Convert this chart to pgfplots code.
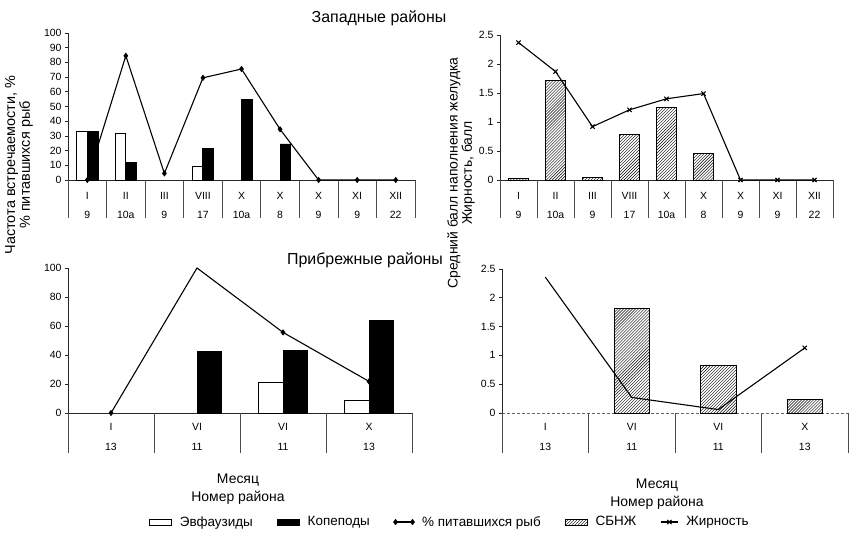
\documentclass[border=0pt]{standalone}
\usepackage{fontspec}
\setmainfont{Liberation Sans}
\usepackage{pgfplots}
\pgfplotsset{compat=1.18}
\usetikzlibrary{patterns}

\pgfplotsset{
  base/.style={
    scale only axis,
    anchor=south west,
    axis x line=bottom, axis y line=left,
    axis line style={-, line width=0.7pt, black!85},
    ymin=0,
    tick align=outside,
    major tick length=3bp,
    ytick style={line width=0.6pt, black!85},
    xtick style={draw=none},
    xticklabel style={align=center, font=\fontsize{10.5}{18.5}\selectfont, yshift=-6bp},
    yticklabel style={font=\fontsize{10.5}{11}\selectfont},
    /pgf/number format/assume math mode=true,
    clip=false,
  },
  barleg/.style={legend image code/.code={\draw[##1] (0bp,-3bp) rectangle (22bp,3bp);}},
}

\begin{document}
\begin{tikzpicture}
\useasboundingbox (0,0) rectangle (849bp,535bp);

% ---------- top left ----------
\begin{axis}[base,
  at={(68bp,355bp)}, width=347bp, height=147bp,
  xmin=-0.5, xmax=8.5, ymax=100,
  ytick={0,10,...,100},
  xtick={0,...,8},
  xticklabels={{I\\9},{II\\10a},{III\\9},{VIII\\17},{X\\10a},{X\\8},{X\\9},{XI\\9},{XII\\22}},
]
\pgfplotsinvokeforeach{-0.5,0.5,1.5,2.5,3.5,4.5,5.5,6.5,7.5,8.5}{
  \draw[black!70, line width=0.6pt] (axis cs:#1,0) -- ([yshift=-38bp]axis cs:#1,0);
}
\addplot[ybar, bar width=0.28, bar shift=-0.14, fill=white, draw=black, line width=0.9pt]
  coordinates {(0,33) (1,32) (3,9)};
\addplot[ybar, bar width=0.28, bar shift=0.14, fill=black, draw=black, line width=0.9pt]
  coordinates {(0,33) (1,12) (3,21.5) (4,54.5) (5,24.5)};
\addplot[black, line width=1.1pt, mark=diamond*, mark size=2.3pt]
  coordinates {(0,0) (1,84.5) (2,4.5) (3,69.5) (4,75.5) (5,34.5) (6,0) (7,0) (8,0)};
\end{axis}

% ---------- top right ----------
\begin{axis}[base,
  at={(500bp,355bp)}, width=333bp, height=145bp,
  xmin=-0.5, xmax=8.5, ymax=2.5,
  ytick={0,0.5,1,1.5,2,2.5},
  yticklabels={0,0.5,1,1.5,2,2.5},
  xtick={0,...,8},
  xticklabels={{I\\9},{II\\10a},{III\\9},{VIII\\17},{X\\10a},{X\\8},{X\\9},{XI\\9},{XII\\22}},
]
\pgfplotsinvokeforeach{-0.5,0.5,1.5,2.5,3.5,4.5,5.5,6.5,7.5,8.5}{
  \draw[black!70, line width=0.6pt] (axis cs:#1,0) -- ([yshift=-38bp]axis cs:#1,0);
}
\addplot[ybar, bar width=0.54, pattern=north east lines, draw=black, line width=0.9pt]
  coordinates {(0,0.02) (1,1.71) (2,0.05) (3,0.78) (4,1.25) (5,0.45)};
\addplot[black, line width=1.1pt, mark=x, mark size=3pt]
  coordinates {(0,2.37) (1,1.87) (2,0.92) (3,1.21) (4,1.40) (5,1.49) (6,0) (7,0) (8,0)};
\end{axis}

% ---------- bottom left ----------
\begin{axis}[base,
  at={(68bp,122bp)}, width=344bp, height=145bp,
  xmin=-0.5, xmax=3.5, ymax=100,
  ytick={0,20,...,100},
  xtick={0,...,3},
  xticklabels={{I\\13},{VI\\11},{VI\\11},{X\\13}},
  xticklabel style={font=\fontsize{10.5}{20}\selectfont, yshift=2bp},
  legend style={at={(rel axis cs:1.11,-0.752)}, anchor=center, draw=none, fill=none,
    font=\fontsize{13.5}{15}\selectfont,
    /tikz/every odd column/.append style={column sep=6bp},
    /tikz/every even column/.append style={column sep=22bp}},
  legend columns=-1,
]
\pgfplotsinvokeforeach{-0.5,0.5,1.5,2.5,3.5}{
  \draw[black!70, line width=0.6pt] (axis cs:#1,0) -- ([yshift=-40bp]axis cs:#1,0);
}
\addplot[ybar, barleg, bar width=0.29, bar shift=-0.145, fill=white, draw=black, line width=0.9pt]
  coordinates {(2,21) (3,8.7)};
\addlegendentry{Эвфаузиды}
\addplot[ybar, barleg, bar width=0.29, bar shift=0.145, fill=black, draw=black, line width=0.9pt]
  coordinates {(1,42.5) (2,43) (3,63.7)};
\addlegendentry{Копеподы}
\addplot[black, line width=1.1pt, mark=diamond*, mark size=2.3pt, mark indices={1,3,4}]
  coordinates {(0,0) (1,100) (2,55.6) (3,21.8)};
\addlegendentry{\% питавшихся рыб}
\addlegendimage{barleg, pattern=north east lines, draw=black, line width=0.9pt}
\addlegendentry{СБНЖ}
\addlegendimage{black, line width=1.1pt, mark=x, mark size=3pt}
\addlegendentry{Жирность}
\end{axis}

% ---------- bottom right ----------
\begin{axis}[base,
  at={(502bp,122bp)}, width=346bp, height=144bp,
  xmin=-0.5, xmax=3.5, ymax=2.5,
  x axis line style={densely dashed, black!60},
  ytick={0,0.5,1,1.5,2,2.5},
  yticklabels={0,0.5,1,1.5,2,2.5},
  xtick={0,...,3},
  xticklabels={{I\\13},{VI\\11},{VI\\11},{X\\13}},
  xticklabel style={font=\fontsize{10.5}{20}\selectfont, yshift=2bp},
]
\pgfplotsinvokeforeach{-0.5,0.5,1.5,2.5,3.5}{
  \draw[black!70, line width=0.6pt] (axis cs:#1,0) -- ([yshift=-40bp]axis cs:#1,0);
}
\addplot[ybar, bar width=0.41, pattern=north east lines, draw=black, line width=0.9pt]
  coordinates {(1,1.81) (2,0.83) (3,0.23)};
\addplot[black, line width=1.1pt, mark=x, mark size=3pt, mark indices={4}]
  coordinates {(0,2.36) (1,0.27) (2,0.06) (3,1.13)};
\end{axis}

% ---------- titles and labels ----------
\node[font=\fontsize{16}{18}\selectfont] at (379bp,517bp) {Западные районы};
\node[font=\fontsize{16}{18}\selectfont] at (365bp,275bp) {Прибрежные районы};
\node[rotate=90, align=center, font=\fontsize{14.5}{13.5}\selectfont] at (19bp,370bp)
  {Частота встречаемости, \%\\\% питавшихся рыб};
\node[rotate=90, align=center, font=\fontsize{14}{13}\selectfont] at (461bp,362bp)
  {Средний балл наполнения желудка\\Жирность, балл};
\node[align=center, font=\fontsize{14}{18}\selectfont] at (238bp,46bp) {Месяц\\Номер района};
\node[align=center, font=\fontsize{14}{18}\selectfont] at (657bp,41bp) {Месяц\\Номер района};
\end{tikzpicture}
\end{document}
